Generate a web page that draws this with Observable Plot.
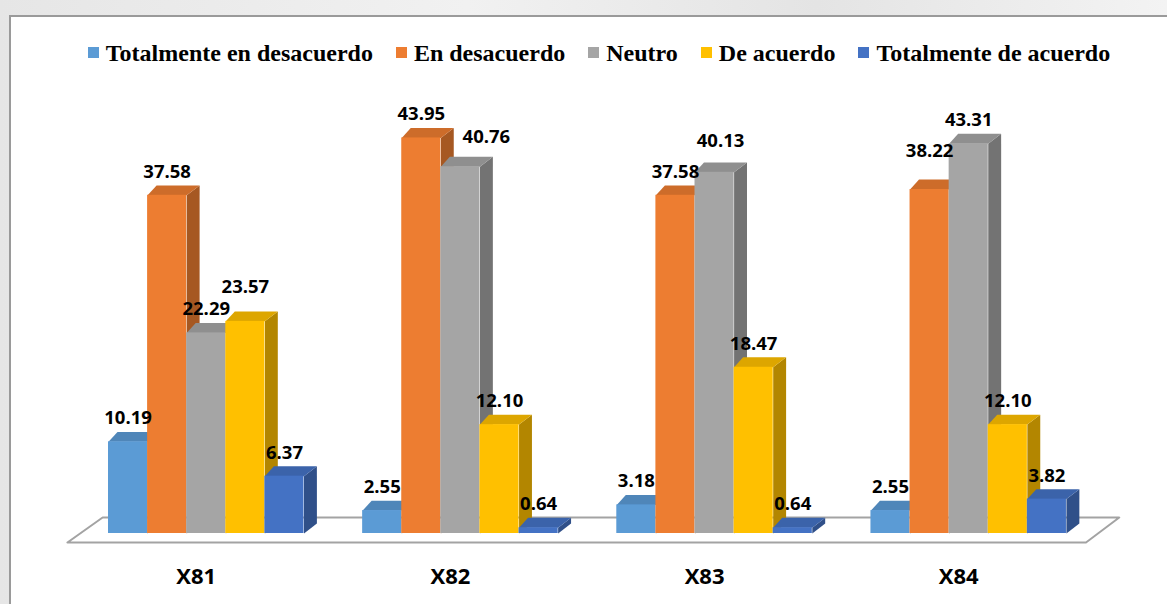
<!DOCTYPE html>
<html>
<head>
<meta charset="utf-8">
<script src="https://cdn.jsdelivr.net/npm/d3@7"></script>
<script src="https://cdn.jsdelivr.net/npm/@observablehq/plot@0.6"></script>
<style>
  html, body { margin: 0; padding: 0; }
  body {
    width: 1167px; height: 604px; overflow: hidden; position: relative;
    background: linear-gradient(90deg, #e6e6e6, #f1f1f1 40%, #e4e4e4 70%, #f3f3f3);
  }
  #frame {
    position: absolute; left: 9px; top: 15px; width: 1200px; height: 640px;
    background: #fff; border-top: 2px solid #9a9a9a; border-left: 2px solid #9a9a9a;
  }
  #legend {
    position: absolute; left: 0; top: 41px; width: 1198px; text-align: center;
    font: bold 24px "Liberation Serif", "Times New Roman", serif; line-height: 24px;
    color: #000; white-space: nowrap;
  }
  #legend .item { display: inline-block; margin: 0 11.5px; }
  #legend .sw {
    display: inline-block; width: 11px; height: 11px; margin: 0 7px 3px 0;
  }
  #chart { position: absolute; left: 0; top: 75px; }
</style>
</head>
<body>
<div id="frame"></div>
<div id="legend"></div>
<div id="chart"></div>
<script>
// Items and response categories
const categories = ["X81", "X82", "X83", "X84"];
const seriesNames = [
  "Totalmente en desacuerdo",
  "En desacuerdo",
  "Neutro",
  "De acuerdo",
  "Totalmente de acuerdo"
];
const seriesColors = ["#5B9BD5", "#ED7D31", "#A5A5A5", "#FFC000", "#4472C4"];

// Percentages per item (X81..X84) for each response
const totalmenteEnDesacuerdo = [10.19, 2.55, 3.18, 2.55];
const enDesacuerdo = [37.58, 43.95, 37.58, 38.22];
const neutro = [22.29, 40.76, 40.13, 43.31];
const deAcuerdo = [23.57, 12.10, 18.47, 12.10];
const totalmenteDeAcuerdo = [6.37, 0.64, 0.64, 3.82];
const seriesValues = [totalmenteEnDesacuerdo, enDesacuerdo, neutro, deAcuerdo, totalmenteDeAcuerdo];

// Legend
const legend = document.getElementById("legend");
seriesNames.forEach((name, i) => {
  const item = document.createElement("span");
  item.className = "item";
  const sw = document.createElement("span");
  sw.className = "sw";
  sw.style.background = seriesColors[i];
  item.appendChild(sw);
  item.appendChild(document.createTextNode(name));
  legend.appendChild(item);
});

// Layout in bar-width units along x
const groupPitch = 6.5;
const depthXLeft = 0.23, depthXRight = 0.33; // receding depth (x, bar units)
const depthY = 1.1;                           // receding depth (y, value units)

const bars = [];
categories.forEach((cat, g) => {
  seriesNames.forEach((name, s) => {
    const x1 = g * groupPitch + s;
    bars.push({
      id: `${cat}|${name}`, cat, name, value: seriesValues[s][g],
      color: seriesColors[s], x1, x2: x1 + 1
    });
  });
});

// Side and top faces of each bar as closed polygons
const sides = [], tops = [];
for (const b of bars) {
  const side = d3.color(b.color).darker(1).formatHex();
  const top = d3.color(b.color).darker(0.4).formatHex();
  [[b.x2, b.value], [b.x2 + depthXRight, b.value + depthY], [b.x2 + depthXRight, depthY], [b.x2, 0]]
    .forEach(([x, y]) => sides.push({id: b.id, x, y, fill: side}));
  [[b.x1, b.value], [b.x2, b.value], [b.x2 + depthXRight, b.value + depthY], [b.x1 + depthXLeft, b.value + depthY]]
    .forEach(([x, y]) => tops.push({id: b.id, x, y, fill: top}));
}

// Floor plane under the bars
const xMin = bars[0].x1, xMax = bars[bars.length - 1].x2;
const floor = [
  {x: xMin - 1.05, y: -1}, {x: xMax + 0.5, y: -1},
  {x: xMax + 1.35, y: 1.78}, {x: xMin - 0.15, y: 1.78}, {x: xMin - 1.05, y: -1}
];

// Group centres for the item labels
const centers = categories.map((c, g) => g * groupPitch + seriesNames.length / 2);
const centerName = new Map(centers.map((c, i) => [c, categories[i]]));

// Value labels that are nudged to stay clear of neighbours
const nudges = new Map([
  ["X81|De acuerdo", [0, -11]],
  ["X82|Neutro", [26, -6]],
  ["X83|Neutro", [6, -8]],
  ["X84|En desacuerdo", [0, -15]]
]);

const labelFont = {fontFamily: "'Open Sans', 'Liberation Sans', sans-serif", fontWeight: 700, fontSize: 18.5};
const labelBase = -23.5;

const labelMarks = [
  Plot.text(bars.filter(d => !nudges.has(d.id)), {
    x: d => d.x1 + 0.5, y: "value", text: d => d.value.toFixed(2),
    dy: labelBase, fill: "#000", ...labelFont
  }),
  ...[...nudges].map(([id, [dx, dy]]) =>
    Plot.text(bars.filter(d => d.id === id), {
      x: d => d.x1 + 0.5, y: "value", text: d => d.value.toFixed(2),
      dx, dy: labelBase + dy, fill: "#000", ...labelFont
    }))
];

const chart = Plot.plot({
  width: 1167,
  height: 529,
  marginTop: 8,
  marginBottom: 71,
  marginLeft: 0,
  marginRight: 0,
  style: {background: "transparent", overflow: "visible"},
  x: {type: "linear", domain: [0, 25], range: [108, 108 + 39.1 * 25], axis: null},
  y: {type: "linear", domain: [0, 50], range: [458, 8], axis: null},
  marks: [
    Plot.line(floor, {x: "x", y: "y", stroke: "#a3a3a3", strokeWidth: 2, fill: "#fff"}),
    Plot.line(sides, {x: "x", y: "y", z: "id", fill: d => d.fill, stroke: null, curve: "linear-closed"}),
    Plot.line(tops, {x: "x", y: "y", z: "id", fill: d => d.fill, stroke: null, curve: "linear-closed"}),
    Plot.rect(bars, {x1: "x1", x2: "x2", y1: 0, y2: "value", fill: d => d.color, inset: 0}),
    Plot.axisX({
      ticks: centers, tickFormat: d => centerName.get(d), tickSize: 0, tickPadding: 35,
      dx: -10, fontSize: 22, fontWeight: 700, fill: "#000",
      fontFamily: "'Open Sans', 'Liberation Sans', sans-serif", label: null
    }),
    ...labelMarks
  ]
});

document.getElementById("chart").appendChild(chart);
</script>
</body>
</html>
